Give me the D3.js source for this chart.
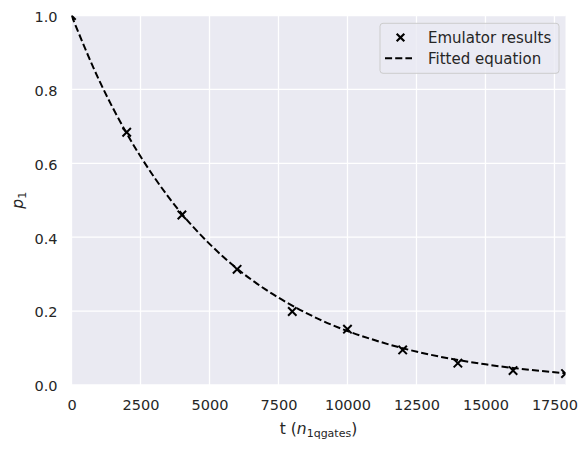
<!DOCTYPE html>
<html>
<head>
<meta charset="utf-8">
<script src="https://cdn.jsdelivr.net/npm/d3@7"></script>
<style>
  body { margin: 0; background: #fff; }
  svg { display: block; font-family: "DejaVu Sans", sans-serif; }
  text { fill: #262626; }
</style>
</head>
<body>
<svg width="587" height="453"></svg>
<script>
// emulator results
var emuT = [0, 2000, 4000, 6000, 8000, 10000, 12000, 14000, 16000, 17900];
var emuP = [1.0, 0.684, 0.460, 0.313, 0.199, 0.151, 0.095, 0.059, 0.039, 0.031];

// fitted equation, sampled from the dashed curve
var fitT = [0, 1000, 2000, 3000, 4000, 5000, 6000, 7000, 8000, 9000, 10000,
            11000, 12000, 13000, 14000, 15000, 16000, 17000, 17900];
var fitP = [1.0, 0.825, 0.681, 0.562, 0.463, 0.382, 0.315, 0.260, 0.215, 0.177, 0.146,
            0.121, 0.0995, 0.082, 0.0677, 0.0559, 0.0461, 0.038, 0.032];

var xTicks = [0, 2500, 5000, 7500, 10000, 12500, 15000, 17500];
var yTicks = [0.0, 0.2, 0.4, 0.6, 0.8, 1.0];
var legendLabels = ["Emulator results", "Fitted equation"];

// plot box (note: "top" is a reserved window global, so use other names)
var pLeft = 71.5, pRight = 565.5, pTop = 15.5, pBottom = 385;

var svg = d3.select("svg");

var x = d3.scaleLinear().domain([0, 17900]).range([pLeft, pRight]);
var y = d3.scaleLinear().domain([0, 1]).range([pBottom, pTop]);

svg.append("rect")
    .attr("x", pLeft).attr("y", pTop)
    .attr("width", pRight - pLeft).attr("height", pBottom - pTop)
    .attr("fill", "#eaeaf2");

svg.append("clipPath").attr("id", "plotclip")
  .append("rect")
    .attr("x", pLeft).attr("y", pTop)
    .attr("width", pRight - pLeft).attr("height", pBottom - pTop);

// grid
svg.append("g").selectAll("line")
    .data(xTicks)
  .enter().append("line")
    .attr("x1", function(d){ return x(d); }).attr("x2", function(d){ return x(d); })
    .attr("y1", pTop).attr("y2", pBottom)
    .attr("stroke", "#fff").attr("stroke-width", 1.3);

svg.append("g").selectAll("line")
    .data(yTicks)
  .enter().append("line")
    .attr("x1", pLeft).attr("x2", pRight)
    .attr("y1", function(d){ return y(d); }).attr("y2", function(d){ return y(d); })
    .attr("stroke", "#fff").attr("stroke-width", 1.3);

// axes (labels only, no spines or tick marks)
var xAxis = svg.append("g")
    .attr("transform", "translate(0," + pBottom + ")")
    .call(d3.axisBottom(x).tickValues(xTicks).tickSize(0).tickPadding(14.5).tickFormat(d3.format("d")));
var yAxis = svg.append("g")
    .attr("transform", "translate(" + pLeft + ",0)")
    .call(d3.axisLeft(y).tickValues(yTicks).tickSize(0).tickPadding(14).tickFormat(d3.format(".1f")));
[xAxis, yAxis].forEach(function(a){
  a.select(".domain").remove();
  a.selectAll("text").attr("font-size", "14.5px").attr("font-family", "DejaVu Sans").style("fill", "#262626");
});
yAxis.selectAll("text").attr("dy", "0.4em");

// fitted curve
var fitData = fitT.map(function(t, i){ return [t, fitP[i]]; });
svg.append("path")
    .datum(fitData)
    .attr("clip-path", "url(#plotclip)")
    .attr("d", d3.line()
        .x(function(d){ return x(d[0]); })
        .y(function(d){ return y(d[1]); })
        .curve(d3.curveMonotoneX))
    .attr("fill", "none")
    .attr("stroke", "#000")
    .attr("stroke-width", 2)
    .attr("stroke-dasharray", "7.1,3.1");

// emulator markers
var s = 4.2;
var crossPath = "M" + (-s) + "," + (-s) + "L" + s + "," + s + "M" + (-s) + "," + s + "L" + s + "," + (-s);
svg.append("g").attr("clip-path", "url(#plotclip)")
  .selectAll("path")
    .data(emuT)
  .enter().append("path")
    .attr("transform", function(d, i){ return "translate(" + x(d) + "," + y(emuP[i]) + ")"; })
    .attr("d", crossPath)
    .attr("stroke", "#000")
    .attr("stroke-width", 2);

// axis labels
var xl = svg.append("text")
    .attr("x", (pLeft + pRight) / 2)
    .attr("y", 434)
    .attr("text-anchor", "middle")
    .attr("font-size", "15.5px");
xl.append("tspan").text("t (");
xl.append("tspan").attr("font-style", "italic").text("n");
xl.append("tspan").attr("font-size", "11px").attr("dy", 3).text("1qgates");
xl.append("tspan").attr("dy", -3).text(")");

var yl = svg.append("text")
    .attr("transform", "translate(23," + ((pTop + pBottom) / 2) + ") rotate(-90)")
    .attr("text-anchor", "middle")
    .attr("font-size", "15.5px");
yl.append("tspan").attr("font-style", "italic").text("p");
yl.append("tspan").attr("font-size", "11px").attr("dy", 3).text("1");

// legend
var lg = svg.append("g");
lg.append("rect")
    .attr("x", 380).attr("y", 23.3)
    .attr("width", 179).attr("height", 50)
    .attr("rx", 3)
    .attr("fill", "#eaeaf2").attr("fill-opacity", 0.8)
    .attr("stroke", "#cccccc").attr("stroke-width", 1);

lg.append("path")
    .attr("transform", "translate(400.5,37.5)")
    .attr("d", "M-3.8,-3.8L3.8,3.8M-3.8,3.8L3.8,-3.8")
    .attr("stroke", "#000").attr("stroke-width", 2.2);

lg.append("line")
    .attr("x1", 385).attr("x2", 412)
    .attr("y1", 58.3).attr("y2", 58.3)
    .attr("stroke", "#000").attr("stroke-width", 2)
    .attr("stroke-dasharray", "7.1,3.1");

lg.selectAll("text")
    .data(legendLabels)
  .enter().append("text")
    .attr("x", 428)
    .attr("y", function(d, i){ return 42.5 + i * 21.5; })
    .attr("font-size", "15px")
    .text(function(d){ return d; });
</script>
</body>
</html>
